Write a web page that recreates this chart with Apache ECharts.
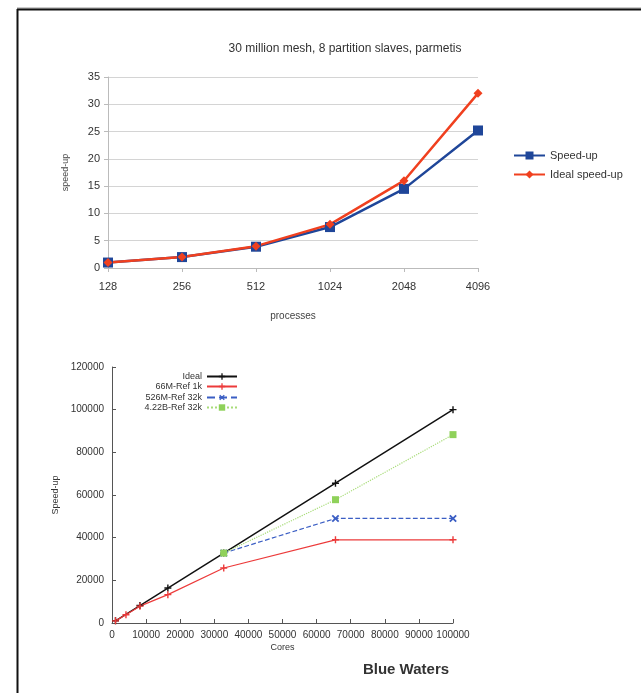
<!DOCTYPE html>
<html>
<head>
<meta charset="utf-8">
<script src="https://cdn.jsdelivr.net/npm/echarts@6/dist/echarts.min.js"></script>
<style>
  html, body { margin: 0; padding: 0; background: #fff; }
  #main { width: 641px; height: 693px; }
</style>
</head>
<body>
<div id="main"></div>
<script>
  // top chart: 30 million mesh
  const processes = ['128', '256', '512', '1024', '2048', '4096'];
  const speedUp = [1, 2, 3.9, 7.5, 14.5, 25.2];
  const idealSpeedUp = [1, 2, 4, 8, 16, 32];

  // bottom chart: Blue Waters
  const idealCores = [1024, 8192, 16384, 32768, 65536, 100000];
  const idealVals = [1024, 8192, 16384, 32768, 65536, 100000];
  const ref66Cores = [1024, 4096, 8192, 16384, 32768, 65536, 100000];
  const ref66Vals = [1000, 3900, 7900, 13300, 25800, 39000, 39000];
  const ref526Cores = [32768, 65536, 100000];
  const ref526Vals = [32768, 49000, 49000];
  const ref422Cores = [32768, 65536, 100000];
  const ref422Vals = [32768, 57800, 88300];

  const pair = (xs, ys) => xs.map((x, i) => [x, ys[i]]);
  const plus = 'path://M4,0H6V4H10V6H6V10H4V6H0V4H4Z';
  const plain = v => String(v);

  const chart = echarts.init(document.getElementById('main'));
  const small = { fontFamily: 'Liberation Sans', fontSize: 9, color: '#333' };
  const tickFont = { fontFamily: 'Liberation Sans', fontSize: 10, color: '#333' };
  const bottomLegend = (name, top) => ({
    data: [name], right: 403, top: top, align: 'right', orient: 'vertical',
    itemWidth: 30, itemHeight: 8, padding: 0,
    textStyle: { fontFamily: 'Liberation Sans', fontSize: 9, color: '#333' }
  });

  chart.setOption({
    animation: false,
    graphic: [
      { type: 'line', shape: { x1: 17, y1: 8, x2: 641, y2: 8 }, style: { stroke: '#999', lineWidth: 1 } },
      { type: 'line', shape: { x1: 17, y1: 9.5, x2: 641, y2: 9.5 }, style: { stroke: '#111', lineWidth: 2 } },
      { type: 'line', shape: { x1: 17.5, y1: 9, x2: 17.5, y2: 693 }, style: { stroke: '#111', lineWidth: 2 } }
    ],
    title: [
      { text: '30 million mesh, 8 partition slaves, parmetis', left: 340, top: 38, textAlign: 'center',
        textStyle: { fontFamily: 'Liberation Sans', fontSize: 12, fontWeight: 'normal', color: '#333' } },
      { text: 'Blue Waters', left: 401, top: 657, textAlign: 'center',
        textStyle: { fontFamily: 'Liberation Sans', fontSize: 15, fontWeight: 'bold', color: '#333' } }
    ],
    legend: [
      { data: ['Speed-up', 'Ideal speed-up'], left: 508, top: 145, orient: 'vertical',
        itemWidth: 31, itemHeight: 10, itemGap: 8,
        textStyle: { fontFamily: 'Liberation Sans', fontSize: 11, color: '#333' } },
      bottomLegend('Ideal', 372),
      bottomLegend('66M-Ref 1k', 382),
      bottomLegend('526M-Ref 32k', 393),
      bottomLegend('4.22B-Ref 32k', 403)
    ],
    grid: [
      { left: 108, right: 163, top: 77, height: 191 },
      { left: 112, right: 188, top: 367, height: 256 }
    ],
    xAxis: [
      { gridIndex: 0, type: 'category', data: processes, boundaryGap: false,
        name: 'processes', nameLocation: 'middle', nameGap: 43,
        nameTextStyle: { fontFamily: 'Liberation Sans', fontSize: 10, color: '#444' },
        axisLine: { lineStyle: { color: '#bbb' } },
        axisTick: { show: true, length: 4, lineStyle: { color: '#bbb' } },
        axisLabel: { fontFamily: 'Liberation Sans', fontSize: 11, color: '#333', margin: 13 } },
      { gridIndex: 1, type: 'value', min: 0, max: 100000, interval: 10000,
        name: 'Cores', nameLocation: 'middle', nameGap: 20,
        nameTextStyle: small,
        splitLine: { show: false },
        axisLine: { lineStyle: { color: '#555' } },
        axisTick: { inside: true, length: 4, lineStyle: { color: '#555' } },
        axisLabel: Object.assign({ margin: 7, formatter: plain, hideOverlap: false }, tickFont) }
    ],
    yAxis: [
      { gridIndex: 0, type: 'value', min: 0, max: 35, interval: 5,
        name: 'speed-up', nameLocation: 'middle', nameGap: 38,
        nameTextStyle: { fontFamily: 'Liberation Sans', fontSize: 9, color: '#444' },
        axisLine: { show: true, lineStyle: { color: '#bbb' } },
        axisTick: { show: true, length: 4, lineStyle: { color: '#bbb' } },
        splitLine: { lineStyle: { color: '#d4d4d4' } },
        axisLabel: { fontFamily: 'Liberation Sans', fontSize: 11, color: '#333', margin: 8 } },
      { gridIndex: 1, type: 'value', min: 0, max: 120000, interval: 20000,
        name: 'Speed-up', nameLocation: 'middle', nameGap: 44,
        nameTextStyle: small,
        splitLine: { show: false },
        axisLine: { show: true, lineStyle: { color: '#555' } },
        axisTick: { show: true, inside: true, length: 4, lineStyle: { color: '#555' } },
        axisLabel: Object.assign({ margin: 8, formatter: plain }, tickFont) }
    ],
    series: [
      { name: 'Speed-up', type: 'line', xAxisIndex: 0, yAxisIndex: 0, data: speedUp,
        symbol: 'rect', symbolSize: 10, color: '#1f4699',
        lineStyle: { width: 2.5, color: '#1f4699' }, itemStyle: { color: '#1f4699' } },
      { name: 'Ideal speed-up', type: 'line', xAxisIndex: 0, yAxisIndex: 0, data: idealSpeedUp,
        symbol: 'diamond', symbolSize: 9, color: '#f0401f',
        lineStyle: { width: 2.5, color: '#f0401f' }, itemStyle: { color: '#f0401f' } },

      { name: 'Ideal', type: 'line', xAxisIndex: 1, yAxisIndex: 1, data: pair(idealCores, idealVals),
        symbol: plus, symbolSize: 7, color: '#111',
        lineStyle: { width: 1.5, color: '#111' }, itemStyle: { color: '#111' } },
      { name: '66M-Ref 1k', type: 'line', xAxisIndex: 1, yAxisIndex: 1, data: pair(ref66Cores, ref66Vals),
        symbol: plus, symbolSize: 7, color: '#ec3b3b',
        lineStyle: { width: 1.2, color: '#ec3b3b' }, itemStyle: { color: '#ec3b3b' } },
      { name: '526M-Ref 32k', type: 'line', xAxisIndex: 1, yAxisIndex: 1, data: pair(ref526Cores, ref526Vals),
        symbol: plus, symbolRotate: 45, symbolSize: 9, color: '#3b5ec4',
        lineStyle: { width: 1.2, type: 'dashed', color: '#3b5ec4' }, itemStyle: { color: '#3b5ec4' } },
      { name: '4.22B-Ref 32k', type: 'line', xAxisIndex: 1, yAxisIndex: 1, data: pair(ref422Cores, ref422Vals),
        symbol: 'rect', symbolSize: 7, color: '#8fd15a',
        lineStyle: { width: 1.2, type: 'dotted', color: '#a8dc78' }, itemStyle: { color: '#8fd15a' } }
    ]
  });
</script>
</body>
</html>
